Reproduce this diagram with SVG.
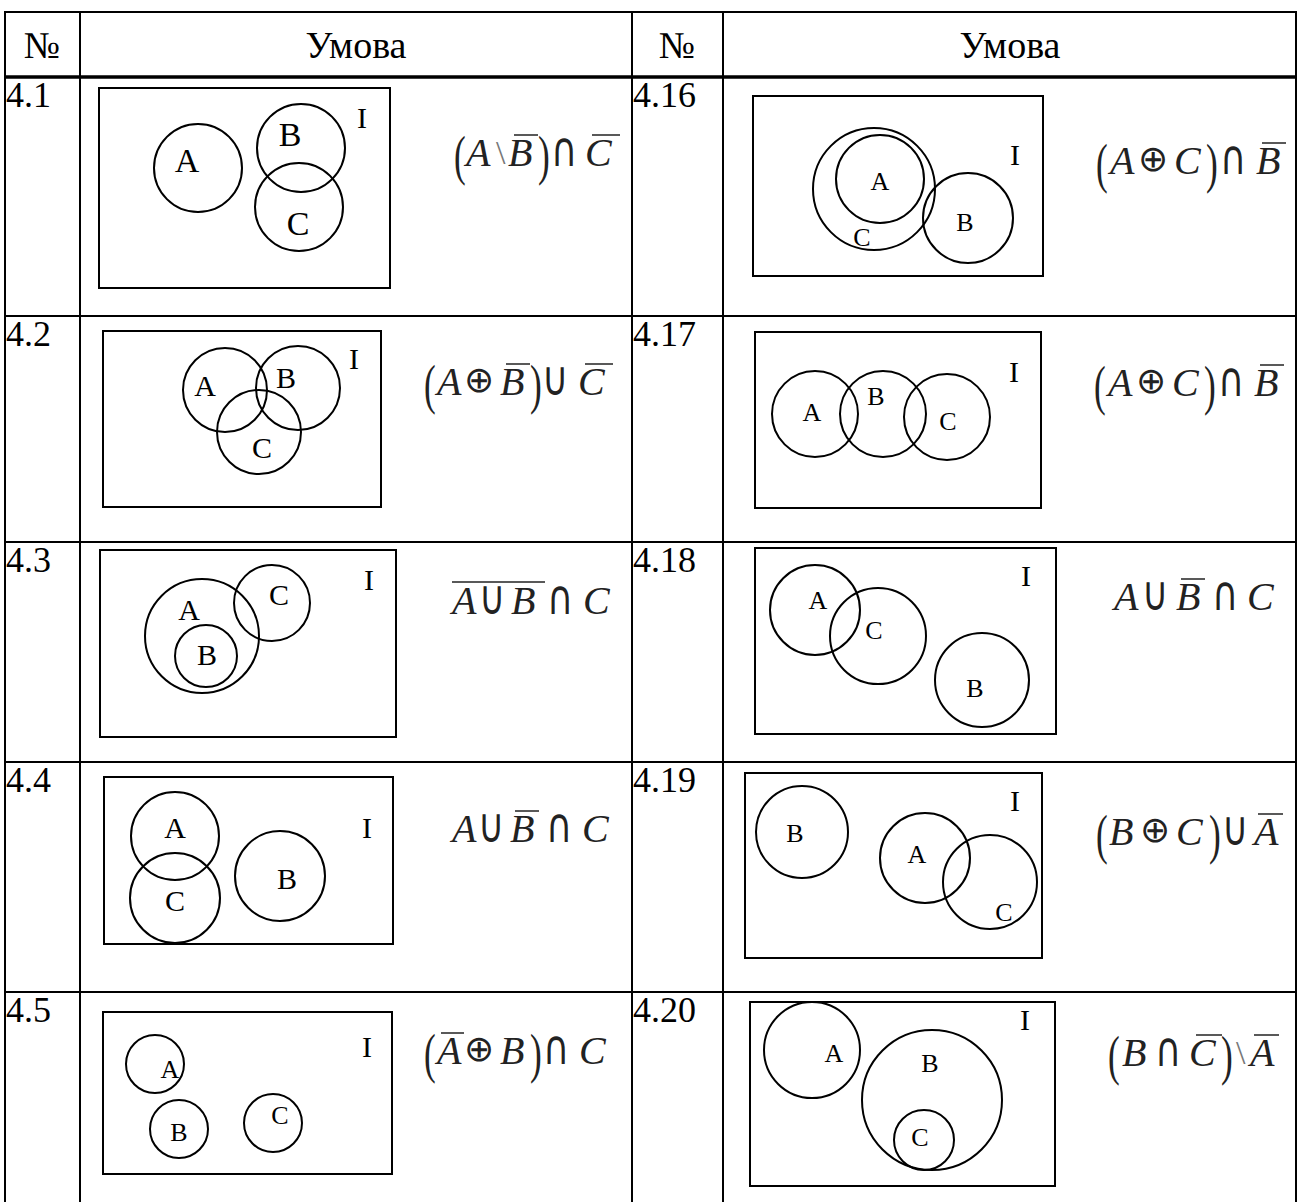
<svg xmlns="http://www.w3.org/2000/svg" width="1298" height="1202" viewBox="0 0 1298 1202">
<style>
.grid{stroke:#000;stroke-width:2;fill:none}
.thick{stroke:#000;stroke-width:3.5;fill:none}
.box{fill:none;stroke:#000;stroke-width:2}
.c{fill:none;stroke:#000;stroke-width:2}
.lbl{font-family:"Liberation Serif",serif;font-size:30px;text-anchor:middle;fill:#000}
.sm{font-size:26px}
.num{font-family:"Liberation Serif",serif;font-size:36px;fill:#000}
.hd{font-family:"Liberation Serif",serif;font-size:38px;fill:#000;text-anchor:middle}
.L{font-family:"Liberation Serif",serif;font-size:40px;font-style:italic;fill:#222}
.o{font-family:"DejaVu Sans",sans-serif;font-size:48px;fill:#222}
.x{font-family:"DejaVu Sans",sans-serif;font-size:36px;fill:#222}
.p{font-family:"Liberation Serif",serif;font-size:44px;fill:#222}
.bs{font-family:"Liberation Serif",serif;font-size:34px;fill:#777}
.bar{stroke:#222;stroke-width:1.5}
</style>
<rect width="1298" height="1202" fill="#fff"/>
<g id="table">
<line class="grid" x1="4" y1="12" x2="1297" y2="12"/>
<line class="thick" x1="4" y1="77" x2="1297" y2="77"/>
<line class="grid" x1="4" y1="316" x2="1297" y2="316"/>
<line class="grid" x1="4" y1="542" x2="1297" y2="542"/>
<line class="grid" x1="4" y1="762" x2="1297" y2="762"/>
<line class="grid" x1="4" y1="992" x2="1297" y2="992"/>
<line class="grid" x1="5" y1="12" x2="5" y2="1202"/>
<line class="grid" x1="80" y1="12" x2="80" y2="1202"/>
<line class="grid" x1="632" y1="12" x2="632" y2="1202"/>
<line class="grid" x1="723" y1="12" x2="723" y2="1202"/>
<line class="grid" x1="1296" y1="12" x2="1296" y2="1202"/>
<text class="hd" x="42" y="58">№</text>
<text class="hd" x="356" y="58">Умова</text>
<text class="hd" x="677" y="58">№</text>
<text class="hd" x="1010" y="58">Умова</text>
<text class="num" x="6" y="107">4.1</text>
<text class="num" x="6" y="346">4.2</text>
<text class="num" x="6" y="572">4.3</text>
<text class="num" x="6" y="792">4.4</text>
<text class="num" x="6" y="1022">4.5</text>
<text class="num" x="633" y="107">4.16</text>
<text class="num" x="633" y="346">4.17</text>
<text class="num" x="633" y="572">4.18</text>
<text class="num" x="633" y="792">4.19</text>
<text class="num" x="633" y="1022">4.20</text>
</g>
<g id="cell-4-1">
<rect class="box" x="99" y="88" width="291" height="200"/>
<circle class="c" cx="198" cy="168" r="44"/>
<circle class="c" cx="301" cy="148" r="44"/>
<circle class="c" cx="299" cy="207" r="44"/>
<text class="lbl" x="187" y="172" style="font-size:34px">A</text>
<text class="lbl" x="290" y="146" style="font-size:34px">B</text>
<text class="lbl" x="298" y="235" style="font-size:34px">C</text>
<text class="lbl" x="362" y="128">I</text>
<text class="p" transform="translate(454,174) scale(0.8,1.25)">(</text>
<text class="L" x="466" y="166">A</text>
<text class="bs" x="496" y="164">\</text>
<text class="L" x="508" y="166">B</text>
<text class="p" transform="translate(538,174) scale(0.8,1.25)">)</text>
<text class="o" transform="translate(551,166) scale(0.75,1)">∩</text>
<text class="L" x="585" y="166">C</text>
<line class="bar" x1="514" y1="135" x2="538" y2="135"/>
<line class="bar" x1="592" y1="135" x2="620" y2="135"/>
</g>
<g id="cell-4-2">
<rect class="box" x="103" y="331" width="278" height="176"/>
<circle class="c" cx="225" cy="390" r="42"/>
<circle class="c" cx="298" cy="388" r="42"/>
<circle class="c" cx="259" cy="432" r="42"/>
<text class="lbl" x="205" y="396">A</text>
<text class="lbl" x="286" y="388">B</text>
<text class="lbl" x="262" y="458">C</text>
<text class="lbl" x="354" y="369">I</text>
<text class="p" transform="translate(424,403) scale(0.8,1.25)">(</text>
<text class="L" x="437" y="395">A</text>
<text class="x" x="464" y="392">⊕</text>
<text class="L" x="500" y="395">B</text>
<text class="p" transform="translate(530,403) scale(0.8,1.25)">)</text>
<text class="o" transform="translate(542,395) scale(0.75,1)">∪</text>
<text class="L" x="578" y="395">C</text>
<line class="bar" x1="506" y1="364" x2="530" y2="364"/>
<line class="bar" x1="585" y1="364" x2="613" y2="364"/>
</g>
<g id="cell-4-3">
<rect class="box" x="100" y="550" width="296" height="187"/>
<circle class="c" cx="202" cy="636" r="57"/>
<circle class="c" cx="206" cy="656" r="31"/>
<circle class="c" cx="272" cy="603" r="38"/>
<text class="lbl" x="189" y="620">A</text>
<text class="lbl" x="207" y="665">B</text>
<text class="lbl" x="279" y="605">C</text>
<text class="lbl" x="369" y="590">I</text>
<text class="L" x="452" y="614">A</text>
<text class="o" transform="translate(479,614) scale(0.75,1)">∪</text>
<text class="L" x="511" y="614">B</text>
<text class="o" transform="translate(547,614) scale(0.75,1)">∩</text>
<text class="L" x="583" y="614">C</text>
<line class="bar" x1="452" y1="582" x2="545" y2="582"/>
</g>
<g id="cell-4-4">
<rect class="box" x="104" y="777" width="289" height="167"/>
<circle class="c" cx="175" cy="836" r="44"/>
<circle class="c" cx="175" cy="898" r="45"/>
<circle class="c" cx="280" cy="876" r="45"/>
<text class="lbl" x="175" y="838">A</text>
<text class="lbl" x="175" y="911">C</text>
<text class="lbl" x="287" y="889">B</text>
<text class="lbl" x="367" y="838">I</text>
<text class="L" x="452" y="842">A</text>
<text class="o" transform="translate(478,842) scale(0.75,1)">∪</text>
<text class="L" x="510" y="842">B</text>
<text class="o" transform="translate(546,842) scale(0.75,1)">∩</text>
<text class="L" x="582" y="842">C</text>
<line class="bar" x1="515" y1="811" x2="539" y2="811"/>
</g>
<g id="cell-4-5">
<rect class="box" x="103" y="1012" width="289" height="162"/>
<circle class="c" cx="155" cy="1064" r="29"/>
<circle class="c" cx="179" cy="1129" r="29"/>
<circle class="c" cx="273" cy="1123" r="29"/>
<text class="lbl sm" x="170" y="1078">A</text>
<text class="lbl sm" x="179" y="1141">B</text>
<text class="lbl sm" x="280" y="1124">C</text>
<text class="lbl" x="367" y="1057">I</text>
<text class="p" transform="translate(424,1072) scale(0.8,1.25)">(</text>
<text class="L" x="437" y="1064">A</text>
<text class="x" x="464" y="1061">⊕</text>
<text class="L" x="500" y="1064">B</text>
<text class="p" transform="translate(530,1072) scale(0.8,1.25)">)</text>
<text class="o" transform="translate(543,1064) scale(0.75,1)">∩</text>
<text class="L" x="579" y="1064">C</text>
<line class="bar" x1="441" y1="1033" x2="464" y2="1033"/>
</g>
<g id="cell-4-16">
<rect class="box" x="753" y="96" width="290" height="180"/>
<circle class="c" cx="874" cy="189" r="61"/>
<circle class="c" cx="880" cy="179" r="44"/>
<circle class="c" cx="968" cy="218" r="45"/>
<text class="lbl sm" x="880" y="190">A</text>
<text class="lbl sm" x="965" y="231">B</text>
<text class="lbl sm" x="862" y="246">C</text>
<text class="lbl" x="1015" y="165">I</text>
<text class="p" transform="translate(1096,182) scale(0.8,1.25)">(</text>
<text class="L" x="1110" y="174">A</text>
<text class="x" x="1138" y="171">⊕</text>
<text class="L" x="1174" y="174">C</text>
<text class="p" transform="translate(1206,182) scale(0.8,1.25)">)</text>
<text class="o" transform="translate(1220,174) scale(0.75,1)">∩</text>
<text class="L" x="1256" y="174">B</text>
<line class="bar" x1="1262" y1="143" x2="1286" y2="143"/>
</g>
<g id="cell-4-17">
<rect class="box" x="755" y="332" width="286" height="176"/>
<circle class="c" cx="815" cy="414" r="43"/>
<circle class="c" cx="883" cy="414" r="43"/>
<circle class="c" cx="947" cy="417" r="43"/>
<text class="lbl sm" x="812" y="421">A</text>
<text class="lbl sm" x="876" y="405">B</text>
<text class="lbl sm" x="948" y="430">C</text>
<text class="lbl" x="1014" y="382">I</text>
<text class="p" transform="translate(1094,404) scale(0.8,1.25)">(</text>
<text class="L" x="1108" y="396">A</text>
<text class="x" x="1136" y="393">⊕</text>
<text class="L" x="1172" y="396">C</text>
<text class="p" transform="translate(1204,404) scale(0.8,1.25)">)</text>
<text class="o" transform="translate(1218,396) scale(0.75,1)">∩</text>
<text class="L" x="1254" y="396">B</text>
<line class="bar" x1="1260" y1="365" x2="1284" y2="365"/>
</g>
<g id="cell-4-18">
<rect class="box" x="755" y="548" width="301" height="186"/>
<circle class="c" cx="815" cy="610" r="45"/>
<circle class="c" cx="878" cy="636" r="48"/>
<circle class="c" cx="982" cy="680" r="47"/>
<text class="lbl sm" x="818" y="609">A</text>
<text class="lbl sm" x="874" y="639">C</text>
<text class="lbl sm" x="975" y="697">B</text>
<text class="lbl" x="1026" y="586">I</text>
<text class="L" x="1114" y="610">A</text>
<text class="o" transform="translate(1142,610) scale(0.75,1)">∪</text>
<text class="L" x="1176" y="610">B</text>
<text class="o" transform="translate(1212,610) scale(0.75,1)">∩</text>
<text class="L" x="1247" y="610">C</text>
<line class="bar" x1="1181" y1="579" x2="1205" y2="579"/>
</g>
<g id="cell-4-19">
<rect class="box" x="745" y="773" width="297" height="185"/>
<circle class="c" cx="802" cy="832" r="46"/>
<circle class="c" cx="925" cy="858" r="45"/>
<circle class="c" cx="990" cy="882" r="47"/>
<text class="lbl sm" x="795" y="842">B</text>
<text class="lbl sm" x="917" y="863">A</text>
<text class="lbl sm" x="1004" y="921">C</text>
<text class="lbl" x="1015" y="811">I</text>
<text class="p" transform="translate(1096,853) scale(0.8,1.25)">(</text>
<text class="L" x="1109" y="845">B</text>
<text class="x" x="1140" y="842">⊕</text>
<text class="L" x="1176" y="845">C</text>
<text class="p" transform="translate(1209,853) scale(0.8,1.25)">)</text>
<text class="o" transform="translate(1222,845) scale(0.75,1)">∪</text>
<text class="L" x="1254" y="845">A</text>
<line class="bar" x1="1258" y1="814" x2="1283" y2="814"/>
</g>
<g id="cell-4-20">
<rect class="box" x="750" y="1002" width="305" height="184"/>
<circle class="c" cx="812" cy="1050" r="48"/>
<circle class="c" cx="932" cy="1100" r="70"/>
<circle class="c" cx="924" cy="1140" r="30"/>
<text class="lbl sm" x="834" y="1062">A</text>
<text class="lbl sm" x="930" y="1072">B</text>
<text class="lbl sm" x="920" y="1146">C</text>
<text class="lbl" x="1025" y="1030">I</text>
<text class="p" transform="translate(1108,1074) scale(0.8,1.25)">(</text>
<text class="L" x="1122" y="1066">B</text>
<text class="o" transform="translate(1155,1066) scale(0.75,1)">∩</text>
<text class="L" x="1189" y="1066">C</text>
<text class="p" transform="translate(1221,1074) scale(0.8,1.25)">)</text>
<text class="bs" x="1236" y="1064">\</text>
<text class="L" x="1250" y="1066">A</text>
<line class="bar" x1="1196" y1="1035" x2="1222" y2="1035"/>
<line class="bar" x1="1254" y1="1035" x2="1279" y2="1035"/>
</g>
</svg>
